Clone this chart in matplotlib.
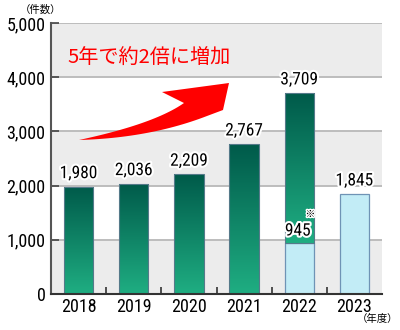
import numpy as np
import matplotlib
matplotlib.use("Agg")
from matplotlib import pyplot as plt
from matplotlib import font_manager as fm
from matplotlib.patches import Rectangle, Polygon
from matplotlib.colors import LinearSegmentedColormap
import matplotlib.patheffects as pe

years = ["2018", "2019", "2020", "2021", "2022", "2023"]
green_vals = [1980, 2036, 2209, 2767, 3709, 0]
blue_vals = [0, 0, 0, 0, 945, 1845]
top_labels = ["1,980", "2,036", "2,209", "2,767", "3,709", "1,845"]
totals = [1980, 2036, 2209, 2767, 3709, 1845]
yticks = [0, 1000, 2000, 3000, 4000, 5000]
ytick_labels = ["0", "1,000", "2,000", "3,000", "4,000", "5,000"]

installed = set(f.name for f in fm.fontManager.ttflist)
narrow = "DejaVu Sans"
for cand in ["Roboto Condensed", "Liberation Sans Narrow", "Open Sans Condensed", "Noto Sans Display"]:
    if cand in installed:
        narrow = cand
        break
num_font = [narrow, "DejaVu Sans"]
jp_font = ["Noto Sans CJK JP", "DejaVu Sans"]
nsize = 12.5 if narrow != "DejaVu Sans" else 10

fig = plt.figure(figsize=(4.0, 3.3), dpi=100)
ax = fig.add_axes([51 / 400, 1 - 294 / 330, 331 / 400, 271 / 330])
ax.set_xlim(-0.5, 5.5)
ax.set_ylim(0, 5000)

# alternating background bands
for lo in (0, 2000, 4000):
    ax.axhspan(lo, lo + 1000, color="#ececec", zorder=0, lw=0)
for y in yticks[1:]:
    ax.axhline(y, color="#b8b8b8", lw=1.3, zorder=1)

cmap = LinearSegmentedColormap.from_list("g", ["#1fae82", "#005a4a"])
grad = np.linspace(0, 1, 256).reshape(-1, 1)
w = 0.53
edge = "#557a8a"

for i, yr in enumerate(years):
    base = blue_vals[i]
    if blue_vals[i] > 0:
        ax.add_patch(Rectangle((i - w / 2, 0), w, blue_vals[i], facecolor="#c2ecf6",
                               edgecolor="#6f93b5", lw=0.9, zorder=2))
    if green_vals[i] > 0:
        top = green_vals[i]
        rect = Rectangle((i - w / 2, base), w, top - base, facecolor="none",
                         edgecolor=edge, lw=0.8, zorder=4)
        ax.add_patch(rect)
        im = ax.imshow(grad, cmap=cmap, origin="lower", aspect="auto",
                       extent=(i - w / 2, i + w / 2, base, top), zorder=3)
        im.set_clip_path(rect)
    ax.annotate(top_labels[i], (i, totals[i]), xytext=(0, 4), textcoords="offset points",
                ha="center", va="bottom", fontsize=nsize, family=num_font, zorder=6,
                path_effects=[pe.withStroke(linewidth=3, foreground="white")])

# 945 label inside the 2022 bar
ax.annotate("945", (4, blue_vals[4]), xytext=(-1, 3), textcoords="offset points",
            ha="center", va="bottom", fontsize=nsize, family=num_font, zorder=6,
            path_effects=[pe.withStroke(linewidth=3, foreground="white")])
ax.annotate("※", (4, blue_vals[4]), xytext=(8, 17), textcoords="offset points",
            ha="center", va="bottom", fontsize=7, family=jp_font, zorder=6,
            path_effects=[pe.withStroke(linewidth=2, foreground="white")])

ax.set_xticks(range(len(years)))
ax.set_xticklabels(years, family=num_font, fontsize=nsize + 0.5)
ax.set_xticks(np.arange(0.5, 5.5, 1), minor=True)
ax.tick_params(axis="x", which="major", length=0, pad=3)
ax.tick_params(axis="x", which="minor", direction="in", length=5, width=1.2, color="#333333")
ax.set_yticks(yticks)
ax.set_yticklabels(ytick_labels, family=num_font, fontsize=nsize + 0.5)
ax.tick_params(axis="y", direction="in", length=6, width=1.2, color="#444444", pad=4)

for s in ("top", "right"):
    ax.spines[s].set_visible(False)
for s, c in (("left", "#555555"), ("bottom", "#333333")):
    ax.spines[s].set_color(c)
    ax.spines[s].set_linewidth(1.5)
    ax.spines[s].set_zorder(7)

# red curved arrow (decoration), outline given in pixels of a 400x330 canvas
def bez(p0, c, p1, n=30):
    t = np.linspace(0, 1, n)[:, None]
    return (1 - t) ** 2 * np.array(p0) + 2 * (1 - t) * t * np.array(c) + t ** 2 * np.array(p1)

tail = (79, 140)
low_end, up_end = (207, 116), (184, 103)
head = [(223, 110), (229, 83), (162, 92)]
outline = np.vstack([bez(tail, (150, 138), low_end), head, bez(up_end, (154, 124), tail)])
outline_ax = np.column_stack([(outline[:, 0] - 51) / 331, (294 - outline[:, 1]) / 271])
ax.add_patch(Polygon(outline_ax, closed=True, transform=ax.transAxes,
                     facecolor="#ff0000", edgecolor="none", zorder=5))

ax.text(0.05, 0.87, "5年で約2倍に増加", transform=ax.transAxes, color="#ff0000",
        fontsize=14.5, family=jp_font, va="center", ha="left", zorder=6)

fig.text(20 / 400, 1 - 10 / 330, "（件数）", family=jp_font, fontsize=7.5, va="center", ha="left")
fig.text(398 / 400, 1 - 319 / 330, "（年度）", family=jp_font, fontsize=7.5, va="center", ha="right")

fig.savefig("out.png", dpi=100)
